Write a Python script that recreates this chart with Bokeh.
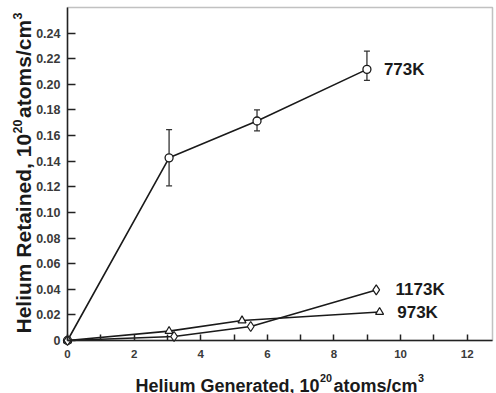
import math
from bokeh.plotting import figure
from bokeh.models import ColumnDataSource, Whisker, TeeHead, FixedTicker, Range1d, NumeralTickFormatter, Label, BoxAnnotation
from bokeh.core.properties import value
from bokeh.embed import file_html
from bokeh.resources import INLINE

# Helium retained vs helium generated (10^20 atoms/cm^3) at three temperatures
x_773 = [0.0, 3.05, 5.69, 8.99]
y_773 = [0.0, 0.1426, 0.1714, 0.2117]
err_hi_773 = [0.1646, 0.1800, 0.2260]
err_lo_773 = [0.1208, 0.1636, 0.2031]

x_973 = [0.0, 3.05, 5.24, 9.37]
y_973 = [0.0, 0.0073, 0.0156, 0.0222]

x_1173 = [0.0, 3.20, 5.50, 9.27]
y_1173 = [0.0, 0.0031, 0.0109, 0.0395]

series_labels = ["773K", "1173K", "973K"]
label_x = [9.5, 9.85, 9.9]
label_y = [0.2117, 0.0395, 0.0222]

x_ticks = [0, 2, 4, 6, 8, 10, 12]
x_minor = [1, 3, 5, 7, 9, 11]
y_ticks = [0, 0.02, 0.04, 0.06, 0.08, 0.10, 0.12, 0.14, 0.16, 0.18, 0.20, 0.22, 0.24]

FONT = "Liberation Sans"
INK = "#1a1a1a"
AXIS = "#222222"

W, H = 496, 393
# plotting box inside the canvas (pixels from the top-left) and its data extent
BOX_L, BOX_R, BOX_T, BOX_B = 67, 492, 7, 340
X_MAX, Y_MAX = 12.76, 0.26
sx = (BOX_R - BOX_L) / X_MAX
sy = (BOX_B - BOX_T) / Y_MAX

# the frame spans the whole canvas; the axes sit at x=0 / y=0 inside it
p = figure(width=W, height=H, output_backend="svg", toolbar_location=None, title=None,
           x_range=Range1d(-BOX_L / sx, (W - BOX_L) / sx),
           y_range=Range1d(-(H - BOX_B) / sy, BOX_B / sy),
           min_border_left=0, min_border_right=0, min_border_top=0, min_border_bottom=0)
p.background_fill_color = "white"
p.border_fill_color = "white"
p.outline_line_color = None
p.xgrid.visible = False
p.ygrid.visible = False

xa = p.xaxis[0]
xa.fixed_location = 0
xa.bounds = (0, X_MAX)
xa.ticker = FixedTicker(ticks=x_ticks, minor_ticks=x_minor)
ya = p.yaxis[0]
ya.fixed_location = 0
ya.bounds = (0, Y_MAX)
ya.ticker = FixedTicker(ticks=y_ticks, minor_ticks=[])
ya.formatter = NumeralTickFormatter(format="0.00")
ya.major_label_overrides = {0: "0"}

for ax in (xa, ya):
    ax.axis_line_color = AXIS
    ax.axis_line_width = 1.5
    ax.major_tick_line_color = AXIS
    ax.minor_tick_line_color = AXIS
    ax.major_tick_line_width = 1.5
    ax.minor_tick_line_width = 1.5
    ax.major_tick_out = 0
    ax.minor_tick_out = 0
    ax.major_label_text_font = FONT
    ax.major_label_text_font_style = "bold"
    ax.major_label_text_color = "#3a3a3a"

xa.major_tick_in = 6
xa.minor_tick_in = 6
xa.major_label_text_font_size = "11.5px"
xa.major_label_standoff = 9
ya.major_tick_in = 8
ya.minor_tick_in = 0
ya.major_label_text_font_size = "12.5px"
ya.major_label_standoff = 7

# top and right edges of the plotting box
p.add_layout(BoxAnnotation(left=0, right=X_MAX, bottom=0, top=Y_MAX, fill_alpha=0,
                           line_color="#333333", line_width=1.5, level="underlay"))

# Arial/Liberation Sans Bold advance widths (1/1000 em) for the axis titles
ADV = {"H": 722, "e": 556, "l": 278, "i": 278, "u": 611, "m": 889, " ": 278, "G": 778,
       "n": 611, "r": 389, "a": 556, "t": 333, "d": 611, ",": 278, "1": 556, "0": 556,
       "2": 556, "3": 556, "o": 611, "s": 556, "/": 278, "c": 556, "R": 722}
MID = 0.3465  # distance from baseline to the middle of the em box, in em


def text_width(s, size):
    return sum(ADV[ch] for ch in s) * size / 1000.0


def axis_title(parts, start_px, start_py, size, vertical):
    """parts: list of (text, is_superscript) laid out along one baseline starting at
    canvas pixel (start_px, start_py) measured from the top-left."""
    pos = 0.0
    sup_size = size * 0.6
    for txt, sup in parts:
        fs = sup_size if sup else size
        rise = size * 0.42 if sup else 0.0
        if vertical:
            px, py = start_px - rise - MID * fs, start_py - pos
            kw = dict(angle=math.pi / 2, text_baseline="middle")
        else:
            px, py = start_px + pos, start_py - rise
            kw = dict(angle=0, text_baseline="alphabetic")
        p.add_layout(Label(x=px, y=H - py, x_units="screen", y_units="screen",
                           text=txt, text_font=FONT, text_font_style="bold",
                           text_font_size=f"{fs:.1f}px", text_color=INK,
                           text_align="left", **kw))
        pos += text_width(txt, fs) + (1.5 if sup else 0.5)


axis_title([("Helium Generated, 10", False), ("20", True), ("atoms/cm", False), ("3", True)],
           135, 385.5, 18, vertical=False)
axis_title([("Helium Retained, 10", False), ("20", True), ("atoms/cm", False), ("3", True)],
           30, 333, 21, vertical=True)

# error bars for 773K
err_src = ColumnDataSource(dict(x=x_773[1:], upper=err_hi_773, lower=err_lo_773))
p.add_layout(Whisker(source=err_src, base="x", upper="upper", lower="lower",
                     line_color="#333333", line_width=1.3,
                     upper_head=TeeHead(size=6, line_color="#333333", line_width=1.3),
                     lower_head=TeeHead(size=6, line_color="#333333", line_width=1.3)))

# lines
p.line(x_773, y_773, line_color=INK, line_width=1.6)
p.line(x_973, y_973, line_color=INK, line_width=1.6)
p.line(x_1173, y_1173, line_color=INK, line_width=1.6)

# markers
p.scatter(x_773, y_773, marker="circle", size=8, fill_color="white", line_color=INK, line_width=1.3)
p.scatter(x_973, y_973, marker="triangle", size=8, fill_color="white", line_color=INK, line_width=1.2)
p.scatter(x_1173, y_1173, marker="diamond", size=10, fill_color="white", line_color=INK, line_width=1.2)

# temperature labels
p.text(label_x, label_y, text=series_labels, text_font=value(FONT), text_font_style="bold",
       text_font_size="17px", text_color=INK, text_baseline="middle", text_align="left")

open("out.html", "w").write(file_html(p, INLINE))
